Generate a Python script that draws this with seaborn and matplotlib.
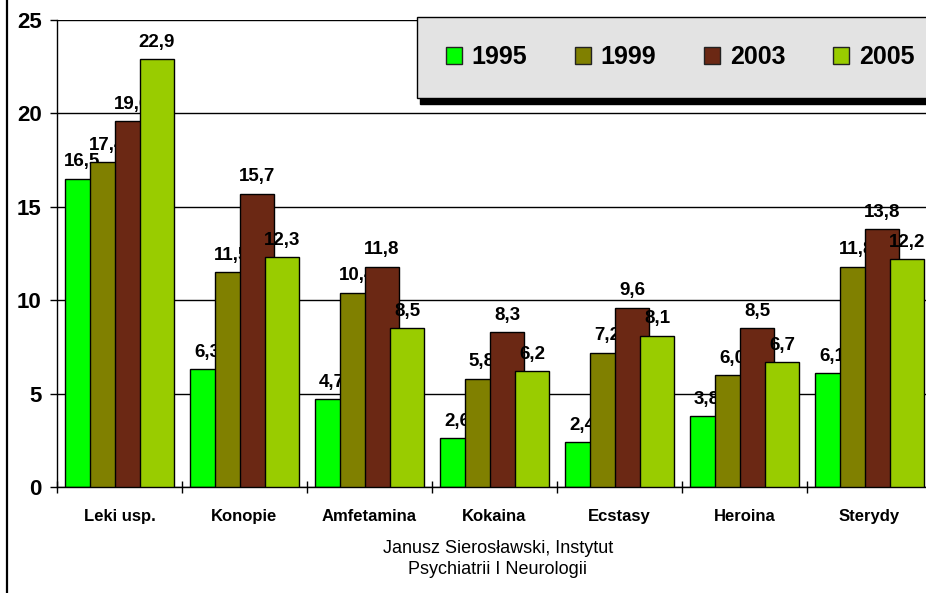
import matplotlib
matplotlib.use("Agg")
import matplotlib.pyplot as plt
from matplotlib.patches import Patch
from matplotlib.lines import Line2D
import numpy as np
import pandas as pd
import seaborn as sns

# data
substances = ["Leki usp.", "Konopie", "Amfetamina", "Kokaina", "Ecstasy", "Heroina", "Sterydy"]
years = ["1995", "1999", "2003", "2005"]
v1995 = [16.5, 6.3, 4.7, 2.6, 2.4, 3.8, 6.1]
v1999 = [17.4, 11.5, 10.4, 5.8, 7.2, 6.0, 11.8]
v2003 = [19.6, 15.7, 11.8, 8.3, 9.6, 8.5, 13.8]
v2005 = [22.9, 12.3, 8.5, 6.2, 8.1, 6.7, 12.2]
colors = ["#00FF00", "#808000", "#6B2814", "#99CC00"]
footer = "Janusz Sierosławski, Instytut\nPsychiatrii I Neurologii"

df = pd.DataFrame({
    "substance": substances * 4,
    "year": [y for y in years for _ in substances],
    "value": v1995 + v1999 + v2003 + v2005,
})

plt.rcParams["font.family"] = ["Liberation Sans", "DejaVu Sans"]

fig = plt.figure(figsize=(9.26, 5.93), dpi=100)
ax = fig.add_axes([57 / 926, 106 / 593, 875 / 926, 467 / 593])

sns.barplot(data=df, x="substance", y="value", hue="year", hue_order=years,
            order=substances, palette=colors, width=0.8, edgecolor="black",
            linewidth=1, saturation=1, errorbar=None, legend=False, ax=ax)

# bars in the original are wider than their step, so they overlap
bar_w = 0.275
for i, cont in enumerate(ax.containers):
    for bar in cont:
        c = bar.get_x() + bar.get_width() / 2
        bar.set_width(bar_w)
        bar.set_x(c - bar_w / 2)
        bar.set_zorder(2 + 2 * i)
    labels = [f"{b.get_height():.1f}".replace(".", ",") for b in cont]
    ax.bar_label(cont, labels=labels, padding=6, fontsize=13.5,
                 fontweight="bold", zorder=3 + 2 * i)

ax.set_xlim(-0.5, 6.5)
ax.set_ylim(0, 25)
ax.set_yticks([0, 5, 10, 15, 20, 25])
ax.yaxis.grid(True, color="black", linewidth=1)
ax.set_axisbelow(True)
ax.set_xlabel("")
ax.set_ylabel("")

for s in ["top", "right"]:
    ax.spines[s].set_visible(False)
for s in ["left", "bottom"]:
    ax.spines[s].set_color("black")
    ax.spines[s].set_linewidth(1)

ax.tick_params(axis="y", direction="out", length=5, width=1, pad=6,
               labelsize=16)
for t in ax.get_yticklabels():
    t.set_fontweight("bold")
ax.set_xticks(np.arange(-0.5, 7, 1), minor=True)
ax.tick_params(axis="x", which="minor", direction="inout", length=9, width=1)
ax.tick_params(axis="x", which="major", length=0, pad=16, labelsize=12)
for t in ax.get_xticklabels():
    t.set_fontweight("bold")

handles = [Patch(facecolor=c, edgecolor="#222222", linewidth=1) for c in colors]
leg = ax.legend(handles, years, loc="upper left",
                bbox_to_anchor=(417 / 926, 1 - 17 / 593),
                bbox_transform=fig.transFigure, ncol=4, frameon=True,
                fancybox=False, borderaxespad=0, borderpad=1.14,
                handlelength=0.64, handleheight=0.64, handletextpad=0.4,
                columnspacing=1.9,
                prop={"size": 18, "weight": "bold"},
                shadow={"ox": 2.5, "oy": -4, "facecolor": "black",
                        "edgecolor": "black", "alpha": 1})
leg.get_frame().set_facecolor("#E3E3E3")
leg.get_frame().set_edgecolor("black")
leg.get_frame().set_linewidth(1)
leg.get_frame().set_alpha(1)
leg.set_zorder(20)

fig.text(498 / 926, 1 - 559 / 593, footer, ha="center", va="center",
         fontsize=13, linespacing=1.35)

fig.add_artist(Line2D([7 / 926, 7 / 926], [0, 1], color="black",
                      linewidth=1.6, transform=fig.transFigure))

fig.savefig("out.png", dpi=100)
